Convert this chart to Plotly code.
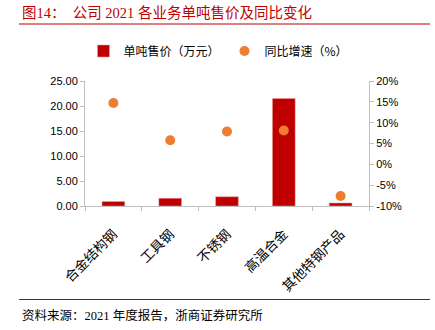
import plotly.graph_objects as go

categories = ["合金结构钢", "工具钢", "不锈钢", "高温合金", "其他特钢产品"]
price = [0.9, 1.55, 1.85, 21.5, 0.6]
yoy = [14.7, 5.8, 7.9, 8.1, -7.6]
left_ticks = [0, 5, 10, 15, 20, 25]
right_ticks = [-10, -5, 0, 5, 10, 15, 20]

W, H = 435, 330
L, R, T, B = 85, 66, 81, 124
pw, ph = W - L - R, H - T - B

def px(x):
    return (x - L) / pw

def py(y):
    return (H - B - y) / ph

fig = go.Figure()
fig.add_trace(go.Bar(
    x=categories, y=price, name="单吨售价（万元）",
    marker=dict(color="#C00000", line=dict(color="#E8A0A0", width=0.5)), width=0.4,
))
fig.add_trace(go.Scatter(
    x=categories, y=yoy, name="同比增速（%）", mode="markers",
    marker=dict(color="#ED7D31", size=10), yaxis="y2",
))

axis_color = "#BFBFBF"
tick_font = dict(family="Liberation Sans, Arial", size=11, color="#000000")

fig.update_layout(
    width=W, height=H,
    margin=dict(l=L, r=R, t=T, b=B),
    paper_bgcolor="white", plot_bgcolor="white",
    showlegend=True,
    legend=dict(orientation="h", x=0.47, xanchor="center", y=py(51), yanchor="middle",
                font=dict(family="Noto Sans CJK SC", size=12, color="#000"),
                itemwidth=30, tracegroupgap=0, bgcolor="rgba(0,0,0,0)"),
    xaxis=dict(
        showgrid=False, showline=True, linecolor=axis_color, linewidth=1,
        ticks="outside", tickson="boundaries", ticklen=4, tickcolor=axis_color,
        tickangle=-45, ticklabelstandoff=14,
        tickfont=dict(family="Noto Sans CJK SC", size=13.5, color="#000"),
    ),
    yaxis=dict(
        range=[0, 25], tickvals=left_ticks,
        ticktext=[f"{v:.2f}" for v in left_ticks],
        showgrid=False, zeroline=False, showline=True, linecolor=axis_color,
        ticks="outside", ticklen=4, tickcolor=axis_color, tickfont=tick_font,
    ),
    yaxis2=dict(
        range=[-10, 20], tickvals=right_ticks,
        ticktext=[f"{v}%" for v in right_ticks],
        overlaying="y", side="right",
        showgrid=False, zeroline=False, showline=True, linecolor=axis_color,
        ticks="outside", ticklen=4, tickcolor=axis_color, tickfont=tick_font,
    ),
)

fig.add_shape(type="line", xref="paper", yref="paper", x0=px(19), x1=px(430),
              y0=py(24), y1=py(24), line=dict(color="#C00000", width=1.2))
fig.add_shape(type="line", xref="paper", yref="paper", x0=px(19), x1=px(430),
              y0=py(299.5), y1=py(299.5), line=dict(color="#C00000", width=1.2))

fig.add_annotation(xref="paper", yref="paper", x=px(20), y=py(13), xanchor="left", yanchor="middle",
                   text="图14：  公司 2021 各业务单吨售价及同比变化", showarrow=False,
                   font=dict(family="Liberation Serif, Noto Sans CJK SC", size=14.5, color="#C00000"))
fig.add_annotation(xref="paper", yref="paper", x=px(20), y=py(315), xanchor="left", yanchor="middle",
                   text="资料来源：2021 年度报告，浙商证券研究所", showarrow=False,
                   font=dict(family="Liberation Serif, Noto Sans CJK SC", size=12.5, color="#000"))

fig.write_html("out.html")
